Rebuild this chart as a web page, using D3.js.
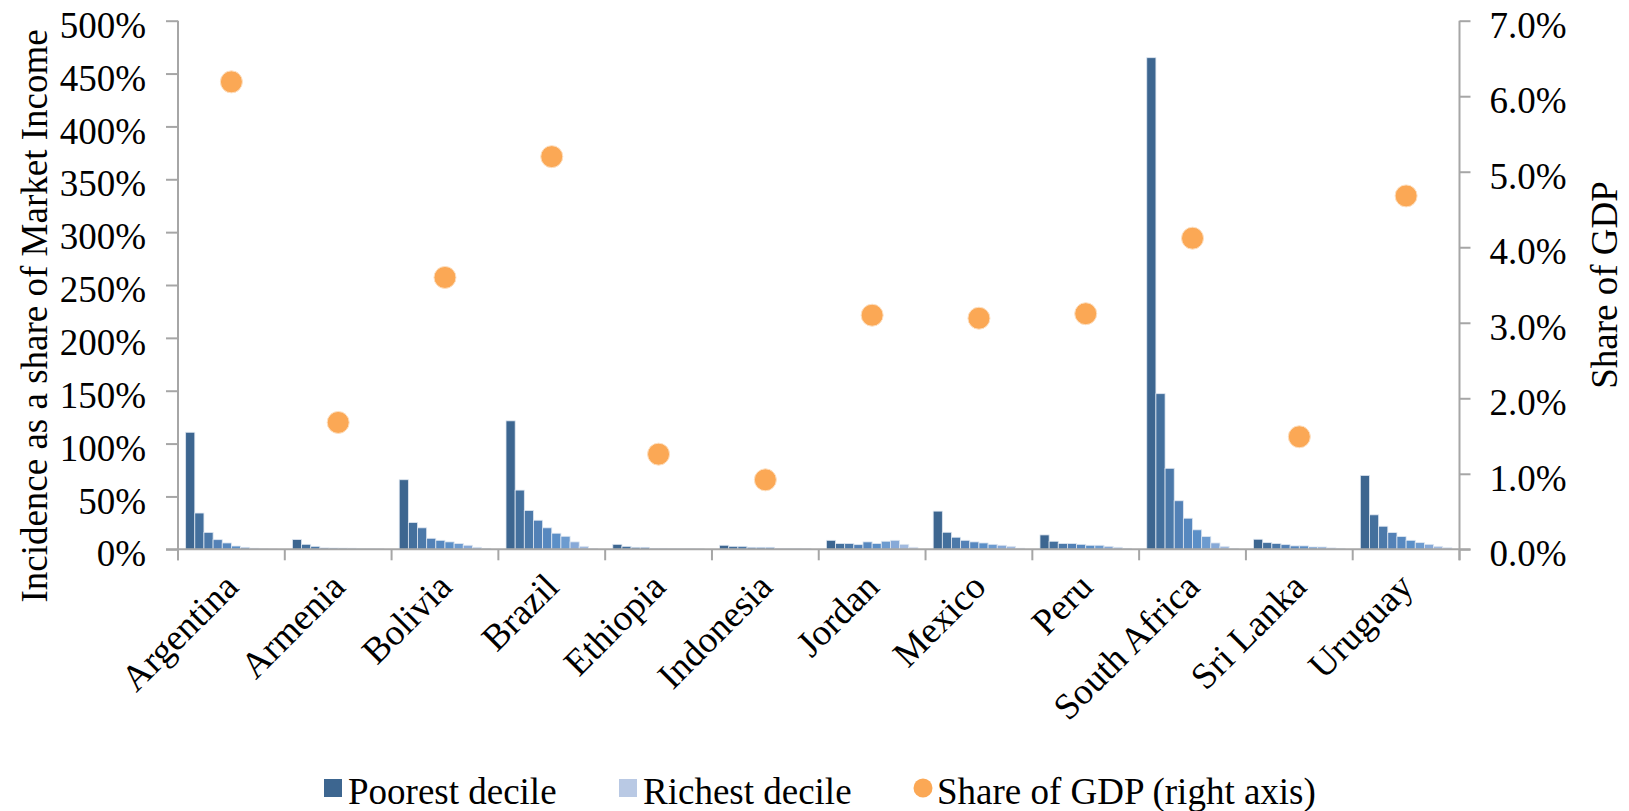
<html>
    <head>
        <title>Incidence by decile</title>
        <script src="https://d3js.org/d3.v7.min.js"></script>
        <style>
            body { margin: 0; background: #fff; }
            text { font-family: "Liberation Serif", "Times New Roman", serif; fill: #000; }
        </style>
    </head>
    <body>
        <div id="chart"></div>
    <script>
        // data (percent values)
        var countries = ["Argentina", "Armenia", "Bolivia", "Brazil", "Ethiopia", "Indonesia",
                         "Jordan", "Mexico", "Peru", "South Africa", "Sri Lanka", "Uruguay"];
        var deciles = ["d1", "d2", "d3", "d4", "d5", "d6", "d7", "d8", "d9", "d10"];
        // incidence as a share of market income, poorest -> richest decile
        var incidence = [
            [110.7, 34.3, 16.0, 9.1, 6.0, 3.1, 1.9, 1.0, 0.5, 0.3],
            [9.2, 4.7, 2.8, 1.3, 1.2, 1.1, 1.0, 0.8, 0.6, 0.5],
            [65.8, 25.3, 20.3, 10.4, 8.5, 7.0, 5.4, 3.8, 1.9, 0.9],
            [121.5, 56.0, 36.7, 27.5, 20.3, 15.2, 12.3, 7.0, 2.8, 0.8],
            [4.7, 2.8, 1.9, 1.9, 0.9, 0.9, 0.8, 0.7, 0.6, 0.5],
            [3.8, 2.8, 2.8, 1.9, 1.9, 1.9, 0.9, 0.9, 0.9, 0.6],
            [8.5, 5.4, 5.4, 4.4, 7.0, 5.4, 7.6, 8.5, 4.7, 1.9],
            [36.1, 16.1, 11.4, 8.5, 7.0, 6.0, 4.7, 3.8, 2.8, 1.0],
            [13.6, 7.6, 5.4, 5.4, 4.7, 3.8, 3.8, 2.8, 1.9, 0.9],
            [465.0, 147.2, 76.6, 45.9, 29.4, 18.4, 12.0, 6.0, 2.8, 0.9],
            [9.5, 6.3, 5.4, 4.4, 3.2, 3.2, 2.2, 2.2, 1.3, 0.9],
            [69.9, 32.6, 21.8, 15.8, 12.0, 8.5, 6.3, 4.7, 2.8, 1.5]
        ];
        var gdpShare = [6.19, 1.68, 3.60, 5.20, 1.26, 0.92, 3.10, 3.06, 3.12, 4.12, 1.49, 4.68];
        var leftTicks = [0, 50, 100, 150, 200, 250, 300, 350, 400, 450, 500];
        var rightTicks = [0, 1, 2, 3, 4, 5, 6, 7];

        var decileColors = ["#3d6690", "#44709d", "#4c79a9", "#5381b6", "#5788bf",
                            "#5b8fc7", "#6d9bcf", "#87a9d7", "#a1badf", "#b9c9e4"];
        var axisColor = "#a6a6a6";

        var W = 1629, H = 811;
        var margin = {top: 20.7, right: 169.5, bottom: 261.7, left: 178};
        var x0L = margin.left, x1R = W - margin.right, yTop = margin.top, yBot = H - margin.bottom;

        var svg = d3.select("#chart").append("svg")
            .attr("width", W)
            .attr("height", H);

        var x0 = d3.scaleBand().domain(countries).range([x0L, x1R]).padding(0);
        var x1 = d3.scaleBand().domain(deciles).range([0, x0.bandwidth()])
            .paddingInner(0).paddingOuter(0.835);
        var y = d3.scaleLinear().domain([0, 500]).range([yBot, yTop]);
        var y2 = d3.scaleLinear().domain([0, 7]).range([yBot, yTop]);

        // bars
        var groups = svg.append("g").selectAll("g")
            .data(countries)
            .enter().append("g")
            .attr("transform", function(d) { return "translate(" + x0(d) + ",0)"; });

        groups.selectAll("rect")
            .data(function(d, i) {
                return incidence[i].map(function(v, j) { return {dec: deciles[j], j: j, v: v}; });
            })
            .enter().append("rect")
            .attr("x", function(d) { return x1(d.dec); })
            .attr("width", x1.bandwidth())
            .attr("y", function(d) { return y(d.v); })
            .attr("height", function(d) { return yBot - y(d.v); })
            .attr("fill", function(d) { return decileColors[d.j]; })
            .attr("stroke", "#dfe7f1")
            .attr("stroke-width", 0.8);

        // left axis
        var yAxis = d3.axisLeft(y).tickValues(leftTicks).tickSize(12)
            .tickFormat(function(d) { return d + "%"; });
        var gl = svg.append("g").attr("transform", "translate(" + x0L + ",0)").call(yAxis);
        gl.select(".domain").attr("d", "M0," + yTop + "V" + (yBot + 11));

        // right axis
        var yAxis2 = d3.axisRight(y2).tickValues(rightTicks).tickSize(11)
            .tickFormat(function(d) { return d.toFixed(1) + "%"; });
        var gr = svg.append("g").attr("transform", "translate(" + x1R + ",0)").call(yAxis2);
        gr.select(".domain").attr("d", "M0," + yTop + "V" + (yBot + 11));

        // bottom axis: ticks at category boundaries
        var xb = svg.append("g");
        xb.append("line")
            .attr("x1", x0L - 12).attr("x2", x1R + 11)
            .attr("y1", yBot).attr("y2", yBot);
        xb.selectAll("line.bt")
            .data(countries.concat(["end"]))
            .enter().append("line")
            .attr("class", "bt")
            .attr("x1", function(d, i) { return x0L + i * x0.step(); })
            .attr("x2", function(d, i) { return x0L + i * x0.step(); })
            .attr("y1", yBot).attr("y2", yBot + 11);

        svg.selectAll(".domain, .tick line").attr("stroke", axisColor).attr("stroke-width", 2);
        xb.selectAll("line").attr("stroke", axisColor).attr("stroke-width", 2);

        gl.selectAll(".tick text")
            .attr("x", -32).attr("dy", "0.45em")
            .style("font-size", "37px").style("font-family", "Liberation Serif");
        gr.selectAll(".tick text")
            .attr("x", 30).attr("dy", "0.45em")
            .style("font-size", "37px").style("font-family", "Liberation Serif");

        // category labels
        svg.append("g").selectAll("text")
            .data(countries)
            .enter().append("text")
            .attr("transform", function(d) {
                return "translate(" + (x0(d) + x0.bandwidth() / 2 + 9) + ",589) rotate(-45)";
            })
            .attr("text-anchor", "end")
            .style("font-size", "37px")
            .text(function(d) { return d; });

        // share of GDP dots
        svg.append("g").selectAll("circle")
            .data(gdpShare)
            .enter().append("circle")
            .attr("cx", function(d, i) { return x0(countries[i]) + x0.bandwidth() / 2; })
            .attr("cy", function(d) { return y2(d); })
            .attr("r", 11)
            .attr("fill", "#fba855")
            .attr("stroke", "#fde0c2")
            .attr("stroke-width", 1);

        // axis titles
        svg.append("text")
            .attr("transform", "translate(47," + 316 + ") rotate(-90)")
            .attr("text-anchor", "middle")
            .style("font-size", "37px")
            .text("Incidence as a share of Market Income");
        svg.append("text")
            .attr("transform", "translate(1617," + 285 + ") rotate(-90)")
            .attr("text-anchor", "middle")
            .style("font-size", "37px")
            .text("Share of GDP");

        // legend
        var lg = svg.append("g");
        lg.append("rect").attr("x", 324).attr("y", 779).attr("width", 18).attr("height", 18)
            .attr("fill", decileColors[0]);
        lg.append("text").attr("x", 348).attr("y", 804).style("font-size", "37px").text("Poorest decile");
        lg.append("rect").attr("x", 619).attr("y", 779).attr("width", 18).attr("height", 18)
            .attr("fill", decileColors[9]);
        lg.append("text").attr("x", 643).attr("y", 804).style("font-size", "37px").text("Richest decile");
        lg.append("circle").attr("cx", 923).attr("cy", 788).attr("r", 9.5).attr("fill", "#fba855");
        lg.append("text").attr("x", 937).attr("y", 804).style("font-size", "37px").text("Share of GDP (right axis)");
    </script>
    </body>
</html>
